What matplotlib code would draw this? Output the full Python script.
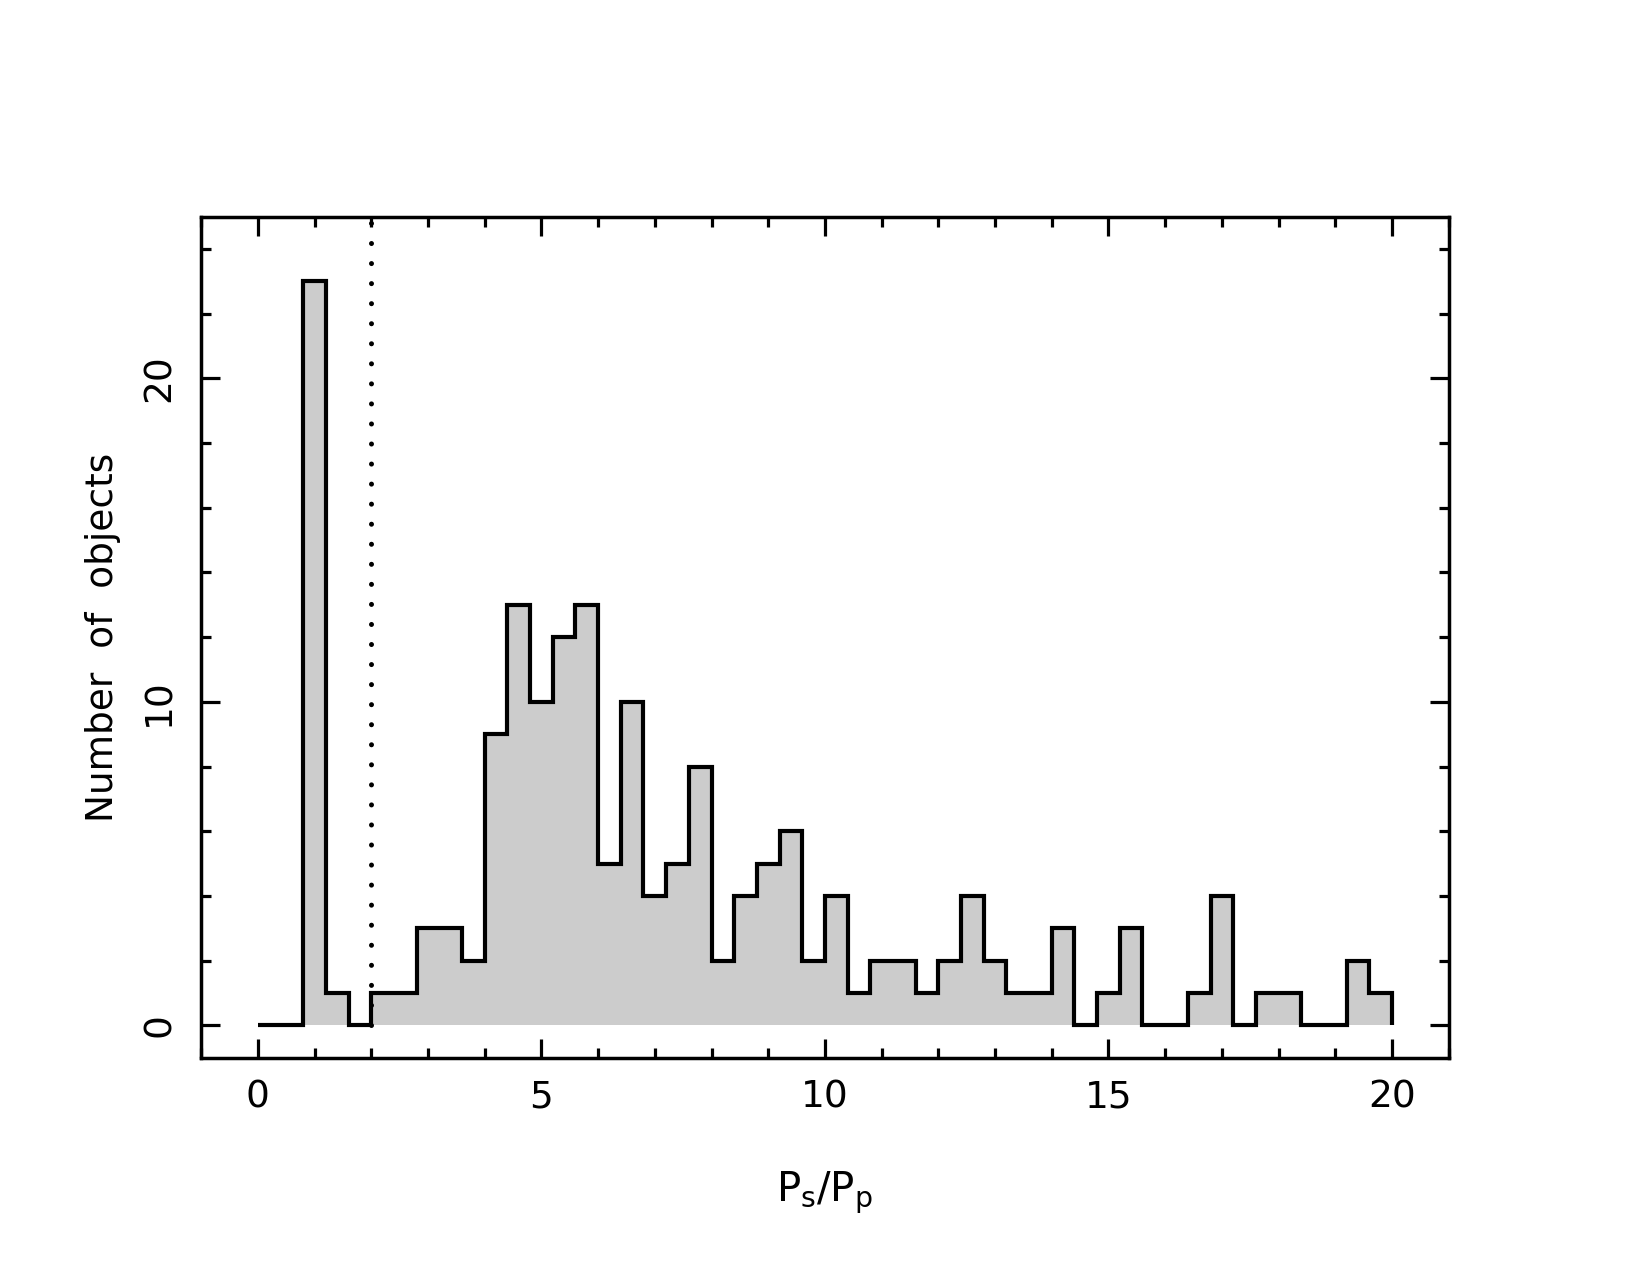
import numpy as np
import matplotlib
matplotlib.use("Agg")
import matplotlib.pyplot as plt
from matplotlib.ticker import MultipleLocator

# histogram: bins of width 0.4 from 0 to 20
bin_edges = np.linspace(0, 20, 51)
counts = [0, 0, 23, 1, 0, 1, 1, 3, 3, 2,
          9, 13, 10, 12, 13, 5, 10, 4, 5, 8,
          2, 4, 5, 6, 2, 4, 1, 2, 2, 1,
          2, 4, 2, 1, 1, 3, 0, 1, 3, 0,
          0, 1, 4, 0, 1, 1, 0, 0, 2, 1]
cut_x = 2.0

fig = plt.figure(figsize=(16.5, 12.75), dpi=100)
ax = fig.add_axes([0.1219, 0.1705, 0.7561, 0.6595])

ax.stairs(counts, bin_edges, fill=True, color="#cccccc", lw=0)
ax.stairs(counts, bin_edges, baseline=0, color="black", lw=3)
ax.plot([cut_x, cut_x], [0, 25], color="black", lw=3.6,
        linestyle=(0, (0.01, 4.0)), dash_capstyle="round")

ax.set_xlim(-1, 21)
ax.set_ylim(-1, 25)

ax.xaxis.set_major_locator(MultipleLocator(5))
ax.xaxis.set_minor_locator(MultipleLocator(1))
ax.yaxis.set_major_locator(MultipleLocator(10))
ax.yaxis.set_minor_locator(MultipleLocator(2))
ax.tick_params(which="both", direction="in", top=True, right=True, width=2.3)
ax.tick_params(which="major", length=14)
ax.tick_params(which="minor", length=7)
ax.tick_params(axis="x", which="major", pad=16, labelsize=27)
ax.tick_params(axis="y", which="major", pad=17, labelsize=27)
plt.setp(ax.get_yticklabels(), rotation=90, va="center")
for s in ax.spines.values():
    s.set_linewidth(2.5)

ax.set_xlabel(r"$\mathregular{P_s/P_p}$", fontsize=29)
ax.set_ylabel("Number  of  objects", fontsize=27)
ax.xaxis.set_label_coords(0.5, -0.133)
ax.yaxis.set_label_coords(-0.064, 0.5)

fig.savefig("out.png", dpi=100)
